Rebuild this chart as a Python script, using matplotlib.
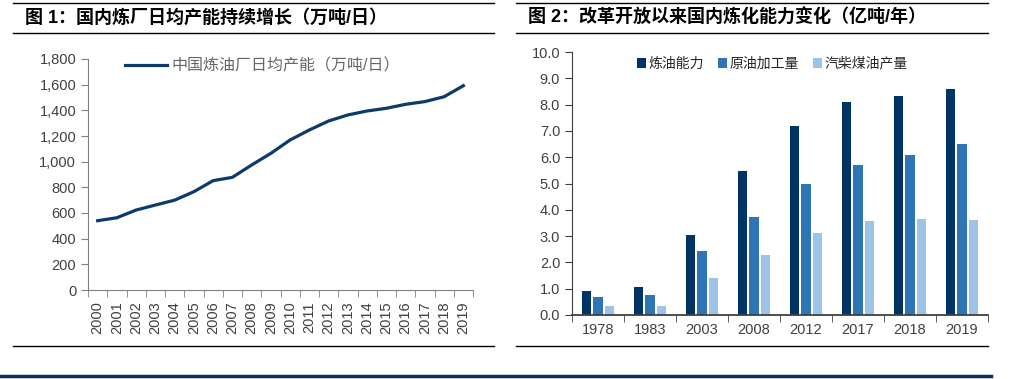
import matplotlib.pyplot as plt
from matplotlib.lines import Line2D
import numpy as np

plt.rcParams['font.family'] = ['Liberation Sans', 'Noto Sans CJK SC', 'DejaVu Sans']

# 图1 数据
anos = ['2000', '2001', '2002', '2003', '2004', '2005', '2006', '2007', '2008', '2009',
        '2010', '2011', '2012', '2013', '2014', '2015', '2016', '2017', '2018', '2019']
capacidade_dia = [540, 563, 623, 662, 700, 766, 852, 878, 974, 1065,
                  1169, 1247, 1317, 1364, 1395, 1416, 1447, 1468, 1506, 1592]

# 图2 数据
anos2 = ['1978', '1983', '2003', '2008', '2012', '2017', '2018', '2019']
refino = [0.93, 1.05, 3.05, 5.46, 7.20, 8.10, 8.31, 8.60]
processamento = [0.70, 0.77, 2.44, 3.73, 4.97, 5.70, 6.07, 6.50]
derivados = [0.34, 0.36, 1.41, 2.30, 3.13, 3.59, 3.65, 3.62]

W, H = 1024, 379
fig = plt.figure(figsize=(W / 100, H / 100), dpi=100)

cor_eixo = '#808080'
cor_txt = '#404040'

def fx(px):
    return px / W

def fy(py):
    return 1 - py / H

# linhas decorativas
def hline(y, x0, x1, cor='black', lw=1.0):
    fig.add_artist(Line2D([fx(x0), fx(x1)], [fy(y), fy(y)], color=cor, lw=lw,
                          transform=fig.transFigure))

for x0, x1 in [(13, 494), (516, 988)]:
    hline(3, x0, x1)
    hline(33, x0, x1)
    hline(346, x0, x1)
hline(376, 0, 991, cor='#0b2f5a', lw=2.5)

fig.text(fx(25), fy(18), '图 1：国内炼厂日均产能持续增长（万吨/日）', fontsize=13,
         fontweight='bold', va='center', ha='left', color='black')
fig.text(fx(528), fy(18), '图 2：改革开放以来国内炼化能力变化（亿吨/年）', fontsize=13,
         fontweight='bold', va='center', ha='left', color='black')

# ---- 图1 ----
ax1 = fig.add_axes([fx(88), fy(290), fx(473) - fx(88), fy(59) - fy(290)])
x = np.arange(len(anos))
ax1.plot(x, capacidade_dia, color='#0c3a6b', lw=2.3, solid_joinstyle='round',
         label='中国炼油厂日均产能（万吨/日）')
ax1.set_xlim(-0.5, len(anos) - 0.5)
ax1.set_ylim(0, 1800)
ax1.set_yticks(np.arange(0, 1801, 200))
ax1.set_yticklabels([f'{v:,}' for v in range(0, 1801, 200)])
ax1.set_xticks(x)
ax1.set_xticklabels(anos, rotation=90)
ax1.set_xticks(np.arange(-0.5, len(anos), 1), minor=True)
ax1.tick_params(axis='x', which='major', length=0, pad=8)
ax1.tick_params(axis='x', which='minor', length=5, color=cor_eixo, direction='out')
ax1.tick_params(axis='y', length=5, color=cor_eixo, direction='out')
ax1.tick_params(labelsize=10.5, labelcolor=cor_txt)
for s in ['top', 'right']:
    ax1.spines[s].set_visible(False)
for s in ['left', 'bottom']:
    ax1.spines[s].set_color(cor_eixo)
leg1 = ax1.legend(loc='upper left', bbox_to_anchor=(0.06, 1.065), frameon=False,
                  fontsize=11.5, handlelength=2.6, handletextpad=0.3)
for t in leg1.get_texts():
    t.set_color('#666666')

# ---- 图2 ----
ax2 = fig.add_axes([fx(572), fy(315), fx(988) - fx(572), fy(52) - fy(315)])
x2 = np.arange(len(anos2))
larg = 0.175
desl = 0.22
ax2.bar(x2 - desl, refino, width=larg, color='#003366', label='炼油能力')
ax2.bar(x2, processamento, width=larg, color='#2e75b6', label='原油加工量')
ax2.bar(x2 + desl, derivados, width=larg, color='#9dc3e6', label='汽柴煤油产量')
ax2.set_xlim(-0.5, len(anos2) - 0.5)
ax2.set_ylim(0, 10)
ax2.set_yticks(np.arange(0, 10.01, 1))
ax2.set_yticklabels([f'{v:.1f}' for v in np.arange(0, 10.01, 1)])
ax2.set_xticks(x2)
ax2.set_xticklabels(anos2)
ax2.set_xticks(np.arange(-0.5, len(anos2), 1), minor=True)
ax2.tick_params(axis='x', which='major', length=0, pad=6)
ax2.tick_params(axis='x', which='minor', length=5, color='#404040', direction='out')
ax2.tick_params(axis='y', length=5, color='#404040', direction='out')
ax2.tick_params(labelsize=10.5, labelcolor=cor_txt)
for s in ['top', 'right']:
    ax2.spines[s].set_visible(False)
for s in ['left', 'bottom']:
    ax2.spines[s].set_color('#404040')
ax2.spines['bottom'].set_linewidth(1.3)
leg2 = ax2.legend(loc='upper left', bbox_to_anchor=(0.125, 1.03), frameon=False, ncol=3,
                  fontsize=10, handlelength=0.7, handleheight=0.7, handletextpad=0.15,
                  columnspacing=1.0)
for t in leg2.get_texts():
    t.set_color('#262626')

plt.savefig('out.png', dpi=100)
